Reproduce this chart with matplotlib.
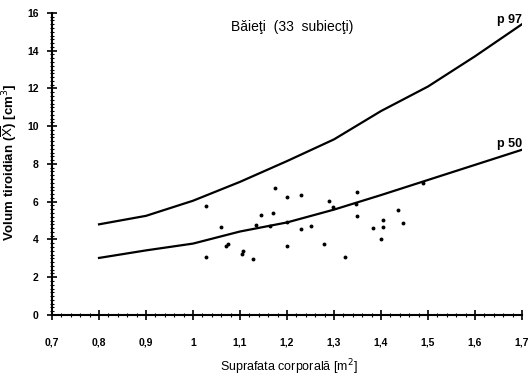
import matplotlib
matplotlib.use("Agg")
import matplotlib.pyplot as plt
from matplotlib.ticker import MultipleLocator

plt.rcParams['font.family'] = ['Liberation Sans', 'DejaVu Sans']

# Percentile curves
bsa = [0.8, 0.9, 1.0, 1.1, 1.2, 1.3, 1.4, 1.5, 1.6, 1.7]
p97 = [4.8, 5.25, 6.05, 7.05, 8.15, 9.3, 10.8, 12.1, 13.7, 15.4]
p50 = [3.02, 3.42, 3.78, 4.42, 4.9, 5.58, 6.35, 7.15, 7.95, 8.75]

# Individual subjects
subj_x = [1.027, 1.027, 1.06, 1.074, 1.07, 1.106, 1.104, 1.128, 1.133, 1.145,
          1.164, 1.171, 1.174, 1.2, 1.229, 1.2, 1.2, 1.229, 1.251, 1.279,
          1.29, 1.298, 1.323, 1.35, 1.346, 1.35, 1.382, 1.404, 1.404, 1.401,
          1.436, 1.446, 1.49]
subj_y = [5.79, 3.07, 4.68, 3.77, 3.65, 3.38, 3.25, 2.98, 4.79, 5.32,
          4.72, 5.38, 6.72, 6.25, 6.36, 4.91, 3.63, 4.56, 4.71, 3.75,
          6.02, 5.74, 3.05, 6.49, 5.88, 5.22, 4.6, 5.05, 4.65, 4.03,
          5.56, 4.86, 7.0]

xticks = [0.7, 0.8, 0.9, 1.0, 1.1, 1.2, 1.3, 1.4, 1.5, 1.6, 1.7]
xticklabels = ["0,7", "0,8", "0,9", "1", "1,1", "1,2", "1,3", "1,4", "1,5", "1,6", "1,7"]
yticks = [0, 2, 4, 6, 8, 10, 12, 14, 16]

fig = plt.figure(figsize=(5.31, 3.79), dpi=100)
ax = fig.add_axes([0.098, 0.169, 0.885, 0.797])

ax.plot(bsa, p97, color='black', lw=1.6)
ax.plot(bsa, p50, color='black', lw=1.6)
ax.plot(subj_x, subj_y, 'o', color='black', ms=2.8, mec='none')

ax.set_xlim(0.7, 1.7)
ax.set_ylim(0, 16)
ax.set_xticks(xticks)
ax.set_xticklabels(xticklabels, fontsize=7.5, fontweight='bold')
ax.set_yticks(yticks)
ax.set_yticklabels([str(v) for v in yticks], fontsize=7.5, fontweight='bold')
ax.xaxis.set_minor_locator(MultipleLocator(0.02))
ax.yaxis.set_minor_locator(MultipleLocator(0.2))
ax.tick_params(axis='x', which='major', direction='inout', length=7, width=1.2, pad=13)
ax.tick_params(axis='y', which='major', direction='inout', length=7, width=1.2, pad=6)
ax.tick_params(axis='both', which='minor', direction='inout', length=3, width=0.8)

for s in ['top', 'right']:
    ax.spines[s].set_visible(False)
for s in ['left', 'bottom']:
    ax.spines[s].set_linewidth(1.5)

ax.text(1.21, 15.25, "Băieţi  (33  subiecţi)", fontsize=10, ha='center', va='center')
ax.text(1.7, 15.6, "p 97", fontsize=9, fontweight='bold', ha='right', va='center')
ax.text(1.7, 9.05, "p 50", fontsize=9, fontweight='bold', ha='right', va='center')

ax.set_xlabel("Suprafata corporală [m$^2$]", fontsize=9,
              family=['Liberation Sans Narrow', 'Liberation Sans', 'DejaVu Sans'])
ax.xaxis.set_label_coords(0.505, -0.14)
ax.set_ylabel(r"Volum tiroidian ($\overline{\mathrm{X}}$) [cm$^3$]", fontsize=9.5,
              fontweight='bold')
ax.yaxis.set_label_coords(-0.07, 0.505)

fig.savefig("out.png", dpi=100, facecolor='white')
